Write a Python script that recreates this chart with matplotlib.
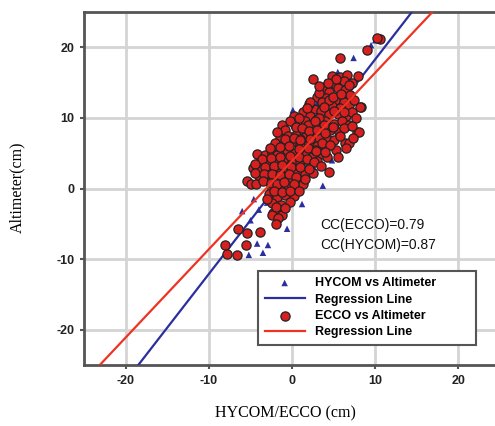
import matplotlib
matplotlib.use("Agg")
import matplotlib.pyplot as plt
import numpy as np

plt.rcParams["axes.unicode_minus"] = False

# ---- data ----
ecco_x = [4.8, 5.8, 6.6, 7.9, 6.2, 5.2,
          3.8, 4.5, 5.5, 6.4, 7.0, 4.1, 5.2, 6.2,
          3.0, 3.6, 4.8, 5.8, 6.8, 8.3, 2.6, 3.5, 4.4, 5.5, 6.5, 7.2,
          1.3, 2.2, 3.0, 4.0, 5.0, 6.0, 6.8, 1.6, 2.5, 3.5, 4.6, 5.6, -1.2, -0.8, 0.3, 0.8,
          -1.5, -0.5, 0.5, 1.5, 2.5, 3.3, 4.2, 5.0, 6.4, 7.8, -2.0, -1.0, 0.0, 1.0, 2.0, 3.0, 4.0, 5.3,
          -4.2, -3.3, -2.4, -1.5, -0.6, 0.4, 1.5, 2.5, 3.5, -3.8, -2.9, -2.0, -1.0, 0.0, 1.0, 2.1, 3.0, 4.2,
          -4.7, -3.7, -2.6, -1.6, -0.5, 0.6, 1.5, 2.5, -4.0, -3.0, -2.0, -1.0, 0.0, 1.0, -5.4, -4.9, -4.3,
          -2.5, -1.5, -0.5, 0.5, 1.3, -2.8, -1.8, -0.8, 0.2, -2.4, -1.3, -0.3, -2.3, -1.6, -2.4, -1.2,
          -6.5, -5.4, -3.9, -8.1, -5.5, -7.8, -6.6,
          10.6, 10.2, 9.0, 5.8, 8.2, 8.0, 6.8,
          2.0, 3.2, 4.4, 1.0, 2.8, 0.2, -0.3, 1.9, -3.2, -1.8,
          5.3, 7.2, 4.3, 6.9, 3.3, 4.9, 5.9, 7.5, 2.2, 3.9, 5.0, 6.2, 7.7, 1.8, 0.8,
          2.7, 3.8, 4.9, 6.3, 7.2, -0.2, 0.5, 1.2, 2.0, 3.0, 4.0, -1.8, -0.8, 0.2, 1.0,
          2.2, 3.6, 4.6, 5.8, -2.6, -1.5, -0.4, 0.8, 1.9, 2.9, 4.0, -3.6, -2.5, -1.5, -0.3,
          0.8, 1.8, 2.6, 3.5, -4.5, -3.2, -2.2, -1.2, -0.1, 1.0, 2.0, -4.4, -3.4, -2.4, -1.4,
          -0.4, 0.5, 1.5, -3.5, -2.5, -1.8, -1.0, 0.2, -2.2, -1.2, -0.2, 0.8, -3.0, -1.9, -0.8,
          -1.7, -1.9, 4.5, 5.5, 6.5, 7.3, 2.5, 3.2]
ecco_y = [16.0, 15.8, 16.1, 15.9, 15.2, 14.8,
          14.1, 13.6, 14.3, 14.0, 13.2, 12.8, 12.6, 12.2,
          13.0, 12.2, 11.7, 11.4, 11.8, 11.6, 11.2, 11.0, 10.6, 10.5, 10.2, 10.8,
          10.9, 10.3, 9.8, 9.6, 9.2, 9.6, 9.0, 9.5, 8.9, 8.6, 8.3, 8.0, 9.0, 8.3, 9.0, 8.2,
          7.2, 7.5, 7.6, 7.3, 7.8, 7.2, 7.0, 6.8, 6.4, 8.0, 6.4, 6.3, 6.6, 6.2, 6.5, 6.0, 5.8, 5.5,
          4.9, 4.7, 5.0, 5.2, 5.4, 5.0, 5.1, 4.6, 4.9, 3.8, 3.6, 3.9, 4.1, 3.8, 3.7, 3.4, 3.9, 4.5,
          2.9, 2.6, 2.8, 2.5, 2.7, 2.4, 2.0, 2.2, 1.8, 1.5, 1.3, 1.6, 1.2, 1.0, 1.1, 0.6, 0.6,
          0.3, 0.0, 0.4, 0.1, 0.6, -0.8, -1.2, -0.9, -1.0, -2.0, -2.3, -1.9, -3.4, -3.2, -3.8, -3.8,
          -5.7, -6.3, -6.1, -8.0, -8.0, -9.3, -9.4,
          21.2, 21.3, 19.6, 18.5, 11.5, 8.0, 6.4,
          12.0, 10.0, 12.5, 7.0, 5.5, 10.2, 3.2, 9.0, 2.0, 4.8,
          15.5, 15.0, 15.0, 14.6, 13.5, 13.0, 13.4, 12.5, 12.3, 11.5, 11.0, 10.9, 10.0, 11.4, 10.0,
          9.5, 9.0, 8.7, 8.5, 8.8, 9.6, 8.7, 8.5, 8.2, 8.3, 7.9, 8.0, 7.0, 7.1, 6.8,
          7.0, 6.5, 6.2, 7.4, 5.7, 5.9, 6.0, 5.6, 5.7, 5.3, 5.2, 4.2, 4.3, 4.5, 4.6,
          4.4, 4.2, 3.8, 3.2, 3.5, 3.1, 3.2, 3.3, 3.1, 3.0, 2.7, 2.2, 2.0, 2.1, 1.9,
          2.0, 1.7, 1.3, 1.0, 0.8, 0.6, 0.9, 0.6, -0.4, -0.5, -0.4, -0.3, -1.5, -2.6, -2.8,
          -4.2, -5.0, 2.3, 4.5, 5.8, 7.2, 15.5, 14.5]

hycom_x = [7.4, 9.5, 10.0, 0.1, 3.7, 4.8, 1.2, -4.2, -2.9, -5.2, -3.5, -0.6,
           -6.0, -5.0, -4.0, -3.0, -4.6, 7.6, 8.0, 6.9, 4.0, 5.5, 3.0, 2.0,
           1.0, 0.0, -1.0, -2.0, -3.0, 4.0, 5.0, 6.0, 3.5, -1.8, 2.6, 6.5]
hycom_y = [18.5, 20.3, 21.0, 11.1, 0.4, 4.0, -2.2, -7.8, -8.0, -9.4, -9.1, -5.7,
           -3.2, -4.5, -3.0, -2.0, -1.5, 12.2, 11.8, 13.5, 15.1, 16.5, 12.0, 8.0,
           6.0, 4.0, 2.0, 0.0, -1.0, 10.0, 12.0, 14.0, 9.0, -2.6, 3.0, 9.8]

hycom_slope, hycom_intercept = 1.52, 3.1
ecco_slope, ecco_intercept = 1.25, 3.9
cc_ecco, cc_hycom = 0.79, 0.87

xticks = [-20, -10, 0, 10, 20]
yticks = [-20, -10, 0, 10, 20]

# ---- figure ----
fig = plt.figure(figsize=(4.95, 4.26), dpi=100)
ax = fig.add_axes([0.170, 0.1432, 0.840, 0.8286])
ax.set_xlim(-25, 25)
ax.set_ylim(-25, 25)
ax.set_xticks(xticks)
ax.set_yticks(yticks)
ax.grid(True, color="#d4d4d4", linewidth=2)
ax.set_axisbelow(True)

for s in ["left", "bottom", "top"]:
    ax.spines[s].set_color("#555555")
    ax.spines[s].set_linewidth(2)
ax.spines["right"].set_visible(False)
ax.tick_params(direction="out", length=3, width=1.5, color="#555555", pad=4)
for lab in ax.get_xticklabels() + ax.get_yticklabels():
    lab.set_fontfamily("Liberation Sans")
    lab.set_fontweight("bold")
    lab.set_fontsize(9)
    lab.set_color("#222222")

xl = np.array(ax.get_xlim())
ax.scatter(hycom_x, hycom_y, marker="^", s=22, color="#2b2f9e", edgecolors="none",
           label="HYCOM vs Altimeter", zorder=3)
ax.plot(xl, hycom_slope * xl + hycom_intercept, color="#2b2f9e", lw=1.6,
        label="Regression Line", zorder=4)
ax.scatter(ecco_x, ecco_y, marker="o", s=44, color="#d71f1f", edgecolors="#222222",
           linewidths=0.9, label="ECCO vs Altimeter", zorder=5)
ax.plot(xl, ecco_slope * xl + ecco_intercept, color="#ee3322", lw=1.6,
        label="Regression Line", zorder=6)
ax.set_xlim(-25, 25)
ax.set_ylim(-25, 25)

ax.text(0.567, 0.397, f"CC(ECCO)={cc_ecco:.2f}", transform=ax.transAxes,
        fontsize=10, fontfamily="Liberation Sans", va="center", ha="left", color="#111111")
ax.text(0.567, 0.340, f"CC(HYCOM)={cc_hycom:.2f}", transform=ax.transAxes,
        fontsize=10, fontfamily="Liberation Sans", va="center", ha="left", color="#111111")

leg = ax.legend(loc="lower left", bbox_to_anchor=(0.404, 0.040, 0.553, 0.26), mode="expand",
                prop={"family": "Liberation Sans", "weight": "bold", "size": 9},
                fancybox=False, framealpha=1, edgecolor="#555555", borderpad=0.5,
                labelspacing=0.35, handlelength=3.2, handletextpad=0.8)
leg.get_frame().set_linewidth(1.5)
leg.set_zorder(10)

fig.text(0.577, 0.030, "HYCOM/ECCO (cm)", ha="center", va="center",
         fontfamily="Liberation Serif", fontsize=11.5)
fig.text(0.034, 0.56, "Altimeter(cm)", ha="center", va="center", rotation=90,
         fontfamily="Liberation Serif", fontsize=11.5)

fig.savefig("out.png", dpi=100)
